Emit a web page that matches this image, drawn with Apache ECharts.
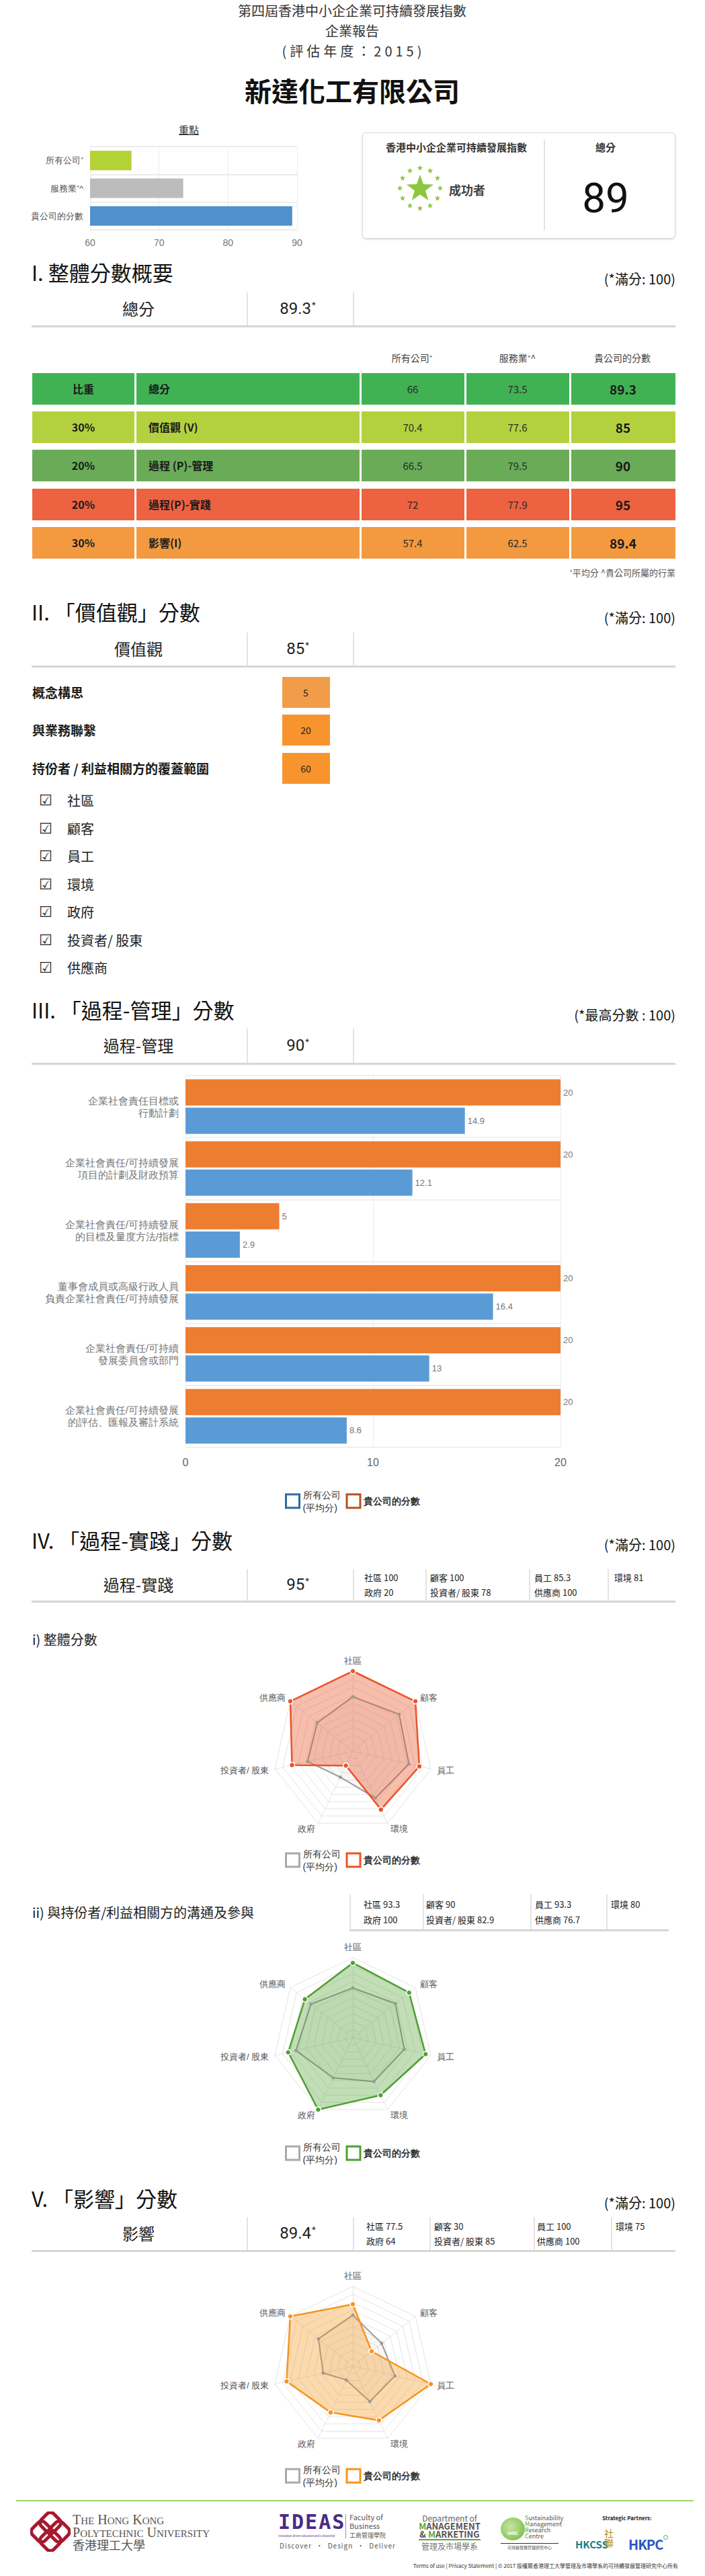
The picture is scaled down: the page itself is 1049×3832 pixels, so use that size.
<!DOCTYPE html>
<html>
<head>
<meta charset="utf-8">
<script src="https://cdn.jsdelivr.net/npm/echarts@6.0.0/dist/echarts.min.js"></script>
<style>
body { margin: 0; background: #fff; }
#page { position: relative; width: 1049px; height: 3832px; overflow: hidden; font-family: "Noto Sans CJK TC", "Noto Sans", sans-serif; color: #222; }
.t { position: absolute; white-space: nowrap; line-height: 1.2; }
.chart { position: absolute; }
.vl { position: absolute; width: 2px; background: #e3e3e3; }
.hl { position: absolute; height: 3px; background: #d6d6d6; }
.sup { font-size: 55%; position: relative; top: -0.7em; margin-left: 1px; }
.cell { position: absolute; }
</style>
</head>
<body>
<div id="page"></div>
<script>
// 重點
var highlightCats = ['所有公司⁺', '服務業⁺^', '貴公司的分數'];
var highlightVals = [66, 73.5, 89.3];
var highlightColors = ['#b2d235', '#bcbcbd', '#4f90cd'];

// I. 整體分數概要
var tableHead = ['所有公司⁺', '服務業⁺^', '貴公司的分數'];
var summaryWeights = ['比重', '30%', '20%', '20%', '30%'];
var summaryNames = ['總分', '價值觀 (V)', '過程 (P)-管理', '過程(P)-實踐', '影響(I)'];
var summaryAll = [66, 70.4, 66.5, 72, 57.4];
var summaryIndustry = [73.5, 77.6, 79.5, 77.9, 62.5];
var summaryCompany = [89.3, 85, 90, 95, 89.4];
var rowColors = ['#41b254', '#b3d13e', '#6aab58', '#ed6241', '#f39a41'];

// II. 價值觀
var valueItems = ['概念構思', '與業務聯繫', '持份者 / 利益相關方的覆蓋範圍'];
var valueScores = [5, 20, 60];
var stakeholderList = ['社區', '顧客', '員工', '環境', '政府', '投資者/ 股東', '供應商'];

// III. 過程-管理
var mgmtCats = ['企業社會責任目標或\n行動計劃', '企業社會責任/可持續發展\n項目的計劃及財政預算', '企業社會責任/可持續發展\n的目標及量度方法/指標',
  '董事會成員或高級行政人員\n負責企業社會責任/可持續發展', '企業社會責任/可持續\n發展委員會或部門', '企業社會責任/可持續發展\n的評估、匯報及審計系統'];
var mgmtCompany = [20, 20, 5, 20, 20, 20];
var mgmtAll = [14.9, 12.1, 2.9, 16.4, 13, 8.6];

// IV / V 雷達
var radarNames = ['社區', '顧客', '員工', '環境', '政府', '投資者/ 股東', '供應商'];
var practiceCompany = [100, 100, 85.3, 81, 20, 78, 100];
var practiceAll = [68, 74, 72, 65, 36, 58, 57];
var engageCompany = [93.3, 90, 93.3, 80, 100, 82.9, 76.7];
var engageAll = [62, 68, 66, 61, 56, 73, 67];
var impactCompany = [77.5, 30, 100, 75, 64, 85, 100];
var impactAll = [64, 46, 54, 49, 19, 38, 55];

var page = document.getElementById('page');

// 放一段文字, anchor: l / c / r, y 為中線
function put(html, x, y, css, anchor) {
    var d = document.createElement('div');
    d.className = 't';
    d.innerHTML = html;
    d.style.cssText += css || '';
    d.style.left = x + 'px';
    d.style.top = y + 'px';
    var ax = anchor === 'c' ? '-50%' : (anchor === 'r' ? '-100%' : '0');
    d.style.transform = 'translate(' + ax + ',-50%)';
    page.appendChild(d);
    return d;
}
function box(x, y, w, h, css) {
    var d = document.createElement('div');
    d.className = 'cell';
    d.style.cssText = 'left:' + x + 'px;top:' + y + 'px;width:' + w + 'px;height:' + h + 'px;' + (css || '');
    page.appendChild(d);
    return d;
}
function vline(x, y1, y2) { box(x, y1, 2, y2 - y1, 'background:#e3e3e3;'); }
function chartDiv(x, y, w, h) {
    var d = document.createElement('div');
    d.className = 'chart';
    d.style.cssText = 'left:' + x + 'px;top:' + y + 'px;width:' + w + 'px;height:' + h + 'px;';
    page.appendChild(d);
    return d;
}

// 標題
put('第四屆香港中小企企業可持續發展指數', 524, 16, 'font-size:20px;color:#333;', 'c');
put('企業報告', 524, 46, 'font-size:20px;color:#333;', 'c');
put('(評估年度：2015)', 526, 76, 'font-size:20px;color:#333;letter-spacing:5px;', 'c');
put('新達化工有限公司', 524, 134, 'font-size:40px;font-weight:bold;color:#111;', 'c');

// 重點
put('重點', 281, 193, 'font-size:15px;color:#333;text-decoration:underline;', 'c');
var hlChart = echarts.init(chartDiv(0, 180, 480, 200), null, { renderer: 'svg' });
hlChart.setOption({
    animation: false,
    grid: { left: 134, top: 38, width: 308, height: 124 },
    xAxis: {
        type: 'value', min: 60, max: 90, interval: 10,
        axisLine: { show: false }, axisTick: { show: false },
        axisLabel: { color: '#777', fontSize: 14, margin: 12 },
        splitLine: { lineStyle: { color: '#ececec' } }
    },
    yAxis: {
        type: 'category', inverse: true, data: highlightCats,
        axisLine: { show: false }, axisTick: { show: false },
        axisLabel: { color: '#555', fontSize: 13, margin: 10 },
        splitLine: { show: true, lineStyle: { color: '#ececec', width: 2 } }
    },
    series: [{
        type: 'bar', barWidth: 29,
        data: highlightVals.map(function (v, i) { return { value: v, itemStyle: { color: highlightColors[i] } }; })
    }]
});

// 總分方塊
box(539, 197, 466, 158, 'border:1px solid #dcdcdc;border-radius:6px;box-shadow:0 1px 3px rgba(0,0,0,0.18);box-sizing:border-box;');
vline(809, 208, 343);
put('香港中小企企業可持續發展指數', 679, 219, 'font-size:15px;font-weight:bold;color:#333;', 'c');
put('總分', 901, 219, 'font-size:15px;font-weight:bold;color:#333;', 'c');
put(String(Math.round(summaryCompany[0])), 901, 295, 'font-size:62px;color:#111;font-family:Roboto,sans-serif;', 'c');
put('成功者', 668, 283, 'font-size:18px;font-weight:bold;color:#444;', 'l');
(function () {
    function star(cx, cy, R, r) {
        var p = [];
        for (var i = 0; i < 10; i++) {
            var a = -Math.PI / 2 + i * Math.PI / 5;
            var rr = i % 2 ? r : R;
            p.push((cx + rr * Math.cos(a)).toFixed(1) + ',' + (cy + rr * Math.sin(a)).toFixed(1));
        }
        return '<polygon points="' + p.join(' ') + '" fill="#8dc63f"/>';
    }
    var s = '<svg width="80" height="80" xmlns="http://www.w3.org/2000/svg">' + star(40, 41, 21, 8.5);
    for (var k = 0; k < 12; k++) {
        var a = k * Math.PI / 6;
        s += star(40 + 30 * Math.sin(a), 40 - 30 * Math.cos(a), 4.5, 1.9);
    }
    s += '</svg>';
    var d = box(585, 240, 80, 80, '');
    d.innerHTML = s;
})();

// 各部分標題
function heading(text, y, note, ny) {
    put(text, 47, y, 'font-size:31px;color:#111;', 'l');
    put(note, 1005, ny, 'font-size:20px;color:#111;', 'r');
}
function scoreRow(top, line, label, score, labelY, extraDiv) {
    vline(367, top, line);
    vline(525, top, line);
    (extraDiv || []).forEach(function (x) { vline(x, top, line); });
    box(47, line, 958, 3, 'background:#d6d6d6;');
    put(label, 206, labelY, 'font-size:24px;color:#222;', 'c');
    put(score + '<span class="sup">*</span>', 443, labelY, 'font-size:24px;color:#222;font-family:Roboto,sans-serif;', 'c');
}
function subCells(xs, y1, y2, comp) {
    var cols = [[0, 4], [1, 5], [2, 6], [3]];
    cols.forEach(function (c, j) {
        c.forEach(function (idx, r) {
            put(radarNames[idx] + ' ' + comp[idx], xs[j], r ? y2 : y1, 'font-size:13px;color:#222;', 'l');
        });
    });
}

// I
heading('I. 整體分數概要', 405, '(*滿分: 100)', 415);
scoreRow(435, 484, '總分', summaryCompany[0], 459);
var colX = [[48, 152], [203, 332], [538, 153], [694, 153], [850, 155]];
[613, 770, 926].forEach(function (x, i) { put(tableHead[i], x, 532, 'font-size:14px;color:#444;', 'c'); });
var rowTop = [555, 612, 669, 727, 784];
rowTop.forEach(function (y, i) {
    colX.forEach(function (c) { box(c[0], y, c[1], 47, 'background:' + rowColors[i] + ';'); });
    var cy = y + 24;
    put(summaryWeights[i], 124, cy, 'font-size:16px;font-weight:bold;color:#1a1a1a;', 'c');
    put(summaryNames[i], 221, cy, 'font-size:16px;font-weight:bold;color:#1a1a1a;', 'l');
    put(summaryAll[i], 614, cy, 'font-size:15px;color:#2a2a2a;', 'c');
    put(summaryIndustry[i], 770, cy, 'font-size:15px;color:#2a2a2a;', 'c');
    put(summaryCompany[i], 927, cy, 'font-size:19px;font-weight:bold;color:#1a1a1a;', 'c');
});
put('<span style="font-size:8px;vertical-align:top">+</span>平均分 ^貴公司所屬的行業', 1005, 852, 'font-size:13px;color:#555;', 'r');

// II
heading('II. 「價值觀」分數', 910, '(*滿分: 100)', 919);
scoreRow(941, 990, '價值觀', summaryCompany[1], 965);
var vTop = [1007, 1063, 1120];
valueItems.forEach(function (name, i) {
    put(name, 48, vTop[i] + 23, 'font-size:19px;font-weight:bold;color:#1a1a1a;', 'l');
    box(420, vTop[i], 71, 46, 'background:' + (valueScores[i] < 10 ? '#f19c49' : '#f7942d') + ';');
    put(valueScores[i], 455, vTop[i] + 23, 'font-size:14px;color:#222;', 'c');
});
stakeholderList.forEach(function (name, i) {
    var y = 1191 + i * 41.5;
    put('☑', 58, y, 'font-size:22px;font-family:"DejaVu Sans";color:#222;', 'l');
    put(name, 100, y, 'font-size:20px;color:#222;', 'l');
});

// III
heading('III. 「過程-管理」分數', 1502, '(*最高分數 : 100)', 1510);
scoreRow(1530, 1581, '過程-管理', summaryCompany[2], 1555);
var mgChart = echarts.init(chartDiv(0, 1585, 1049, 680), null, { renderer: 'svg' });
mgChart.setOption({
    animation: false,
    grid: { left: 276, top: 15, width: 558, height: 553 },
    legend: {
        top: 624, left: 'center', icon: 'rect', itemWidth: 20, itemHeight: 20, itemGap: 8,
        data: [
            { name: '所有公司', itemStyle: { color: '#fff', borderColor: '#2e6aa3', borderWidth: 3 } },
            { name: '貴公司的分數', itemStyle: { color: '#fff', borderColor: '#b8501e', borderWidth: 3 } }
        ],
        formatter: function (n) { return n === '所有公司' ? '所有公司\n(平均分)' : '{b|' + n + '}'; },
        textStyle: { color: '#333', fontSize: 14, lineHeight: 19, rich: { b: { fontWeight: 'bold', fontSize: 14, color: '#333' } } }
    },
    xAxis: {
        type: 'value', min: 0, max: 20, interval: 10,
        axisLine: { show: false }, axisTick: { show: false },
        axisLabel: { color: '#666', fontSize: 16, margin: 14 },
        splitLine: { lineStyle: { color: '#ececec' } }
    },
    yAxis: {
        type: 'category', inverse: true, data: mgmtCats,
        axisLine: { show: false }, axisTick: { show: false },
        axisLabel: { color: '#777', fontSize: 15, lineHeight: 18, margin: 10, align: 'right' },
        splitLine: { show: true, lineStyle: { color: '#f0f0f0', width: 2 } }
    },
    series: [
        { name: '貴公司的分數', type: 'bar', data: mgmtCompany, barWidth: 39, barGap: '8%',
          itemStyle: { color: '#ed7d31' }, label: { show: true, position: 'right', color: '#777', fontSize: 13, distance: 4 } },
        { name: '所有公司', type: 'bar', data: mgmtAll, barWidth: 39,
          itemStyle: { color: '#5b9bd5' }, label: { show: true, position: 'right', color: '#777', fontSize: 13, distance: 4 } }
    ]
});

// 雷達圖
var order = [0, 6, 5, 4, 3, 2, 1]; // echarts 逆時針排列, 反轉成順時針
function radarChart(top, h, cy, comp, all, color, fill, legendTop) {
    var c = echarts.init(chartDiv(0, top, 1049, h), null, { renderer: 'svg' });
    c.setOption({
        animation: false,
        legend: {
            top: legendTop, left: 'center', icon: 'rect', itemWidth: 20, itemHeight: 20, itemGap: 8,
            data: [
                { name: '所有公司', itemStyle: { color: '#fff', borderColor: '#aaa', borderWidth: 3 } },
                { name: '貴公司的分數', itemStyle: { color: '#fff', borderColor: color, borderWidth: 3 } }
            ],
            formatter: function (n) { return n === '所有公司' ? '所有公司\n(平均分)' : '{b|' + n + '}'; },
            textStyle: { color: '#333', fontSize: 14, lineHeight: 19, rich: { b: { fontWeight: 'bold', fontSize: 14, color: '#333' } } }
        },
        radar: {
            center: [525, cy], radius: 119, startAngle: 90, splitNumber: 10,
            indicator: order.map(function (i) { return { name: radarNames[i], max: 100 }; }),
            axisName: { color: '#555', fontSize: 13 },
            nameGap: 9,
            splitLine: { lineStyle: { color: '#e4e4e4' } },
            splitArea: { show: false },
            axisLine: { lineStyle: { color: '#e4e4e4' } }
        },
        series: [{
            type: 'radar',
            data: [
                { name: '所有公司', value: order.map(function (i) { return all[i]; }),
                  symbol: 'circle', symbolSize: 5,
                  itemStyle: { color: '#999' }, lineStyle: { color: '#999', width: 2 },
                  areaStyle: { color: 'rgba(160,160,160,0.12)' } },
                { name: '貴公司的分數', value: order.map(function (i) { return comp[i]; }),
                  symbol: 'circle', symbolSize: 8,
                  itemStyle: { color: color, borderColor: '#fff', borderWidth: 1.5 },
                  lineStyle: { color: color, width: 2.5 },
                  areaStyle: { color: fill } }
            ]
        }]
    });
}

// IV
heading('IV. 「過程-實踐」分數', 2291, '(*滿分: 100)', 2298);
scoreRow(2334, 2381, '過程-實踐', summaryCompany[3], 2357, [633, 787, 904]);
subCells([542, 640, 795, 914], 2347, 2369, practiceCompany);
put('i) 整體分數', 48, 2439, 'font-size:20px;color:#222;', 'l');
radarChart(2460, 330, 145, practiceCompany, practiceAll, '#e9542a', 'rgba(233,84,42,0.55)', 283);

put('ii) 與持份者/利益相關方的溝通及參與', 48, 2845, 'font-size:20px;color:#222;', 'l');
vline(520, 2818, 2870);
vline(629, 2818, 2870);
vline(789, 2818, 2870);
vline(902, 2818, 2870);
box(520, 2870, 475, 3, 'background:#d6d6d6;');
subCells([541, 634, 796, 909], 2833, 2856, engageCompany);
radarChart(2880, 340, 151, engageCompany, engageAll, '#4fa032', 'rgba(79,160,50,0.5)', 299);

// V
heading('V. 「影響」分數', 3270, '(*滿分: 100)', 3277);
scoreRow(3298, 3347, '影響', summaryCompany[4], 3322, [639, 794, 909]);
subCells([545, 646, 799, 916], 3312, 3334, impactCompany);
radarChart(3370, 330, 150, impactCompany, impactAll, '#f7941d', 'rgba(247,148,29,0.5)', 289);

// 頁尾
box(24, 3719, 1008, 2, 'background:#9fd46b;');
(function () {
    var knot = '<svg width="60" height="60" xmlns="http://www.w3.org/2000/svg"><g fill="none" stroke="#a6192e" stroke-width="5">' +
        '<rect x="17" y="4" width="26" height="26" rx="7" transform="rotate(45 30 17)"/>' +
        '<rect x="17" y="30" width="26" height="26" rx="7" transform="rotate(45 30 43)"/>' +
        '<rect x="4" y="17" width="26" height="26" rx="7" transform="rotate(45 17 30)"/>' +
        '<rect x="30" y="17" width="26" height="26" rx="7" transform="rotate(45 43 30)"/></g></svg>';
    box(45, 3736, 60, 60, '').innerHTML = knot;
})();
put('T<span style="font-size:15px">HE</span> H<span style="font-size:15px">ONG</span> K<span style="font-size:15px">ONG</span>', 108, 3748, 'font-size:20px;font-family:"Liberation Serif",serif;color:#555;', 'l');
put('P<span style="font-size:15px">OLYTECHNIC</span> U<span style="font-size:15px">NIVERSITY</span>', 108, 3767, 'font-size:20px;font-family:"Liberation Serif",serif;color:#555;', 'l');
put('香港理工大學', 108, 3786, 'font-size:18px;color:#555;', 'l');

put('IDEAS', 414, 3752, 'font-size:30px;font-weight:bold;color:#4b2a86;letter-spacing:2px;font-family:"DejaVu Sans Mono",monospace;', 'l');
put('Innovation-driven Education and Scholarship', 414, 3772, 'font-size:4px;color:#4b2a86;', 'l');
box(514, 3740, 1, 36, 'background:#999;');
put('Faculty of', 520, 3745, 'font-size:11px;color:#555;', 'l');
put('Business', 520, 3758, 'font-size:11px;color:#555;', 'l');
put('工商管理學院', 520, 3772, 'font-size:9px;color:#555;', 'l');
put('Discover &nbsp;·&nbsp; Design &nbsp;·&nbsp; Deliver', 416, 3787, 'font-size:10px;color:#555;letter-spacing:1px;', 'l');

put('Department of', 669, 3746, 'font-size:12px;color:#666;', 'c');
put('<span style="color:#5aa83c">M</span>ANAGEMENT', 669, 3758, 'font-size:13px;font-weight:bold;color:#555;', 'c');
put('&amp; <span style="color:#5aa83c">M</span>ARKETING', 669, 3770, 'font-size:13px;font-weight:bold;color:#555;', 'c');
box(623, 3777, 92, 2, 'background:#5aa83c;');
put('管理及市場學系', 669, 3788, 'font-size:12px;color:#777;', 'c');

box(745, 3745, 36, 34, 'border-radius:50%;background:radial-gradient(circle at 40% 40%,#c7e6a2,#6fb53e);');
put('SMRC', 763, 3769, 'font-size:6px;color:#fff;font-weight:bold;', 'c');
['Sustainability', 'Management', 'Research', 'Centre'].forEach(function (s, i) {
    put('<span style="color:#5aa83c">' + s.charAt(0) + '</span>' + s.slice(1), 781, 3746 + i * 9, 'font-size:9px;color:#555;', 'l');
});
box(745, 3783, 86, 1, 'background:#333;');
put('可持續發展管理研究中心', 788, 3790, 'font-size:6px;color:#555;', 'c');

put('Strategic Partners:', 933, 3746, 'font-size:8px;font-weight:bold;color:#222;', 'c');
put('HKCSS', 856, 3785, 'font-size:15px;font-weight:bold;color:#177e8a;', 'l');
put('社<br>聯', 906, 3775, 'font-size:14px;color:#b38b14;line-height:1;text-align:center;', 'c');
put('HKPC', 935, 3785, 'font-size:20px;font-weight:bold;color:#2a56c6;letter-spacing:-1px;', 'l');
box(987, 3771, 5, 5, 'border:1px solid #2fb15a;border-radius:50%;');

put('Terms of use | Privacy Statement | © 2017 版權屬香港理工大學管理及市場學系的可持續發展管理研究中心所有', 1009, 3817, 'font-size:8px;color:#333;', 'r');
</script>
</body>
</html>
